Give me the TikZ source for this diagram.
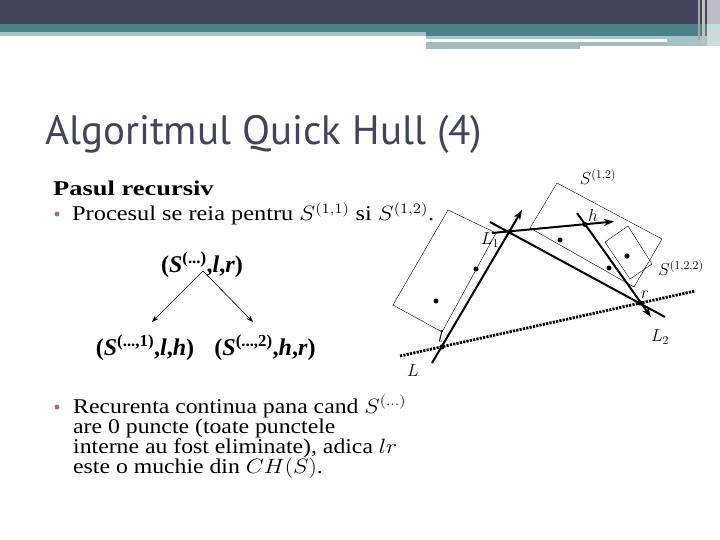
\documentclass[tikz,border=0pt]{standalone}
\usepackage{fontspec}
\usepackage{graphicx}
\usetikzlibrary{arrows.meta}
\newfontfamily\titlefont{PT Sans}
\newfontfamily\treefont{Liberation Serif}
\newfontfamily\bodyfont{Liberation Serif}
\newcommand{\widetxt}[2][1.13]{\scalebox{#1}[1]{#2}}
\definecolor{hdark}{HTML}{41445A}
\definecolor{hteal}{HTML}{4A8286}
\definecolor{hlight}{HTML}{A7C3C6}
\definecolor{hgray}{HTML}{A5BCBE}
\definecolor{hright}{HTML}{BCBBC6}
\definecolor{bulletc}{HTML}{9C6E9E}
\tikzset{
  body/.style={anchor=base west, inner sep=0pt, font=\bodyfont\fontsize{21}{20}\selectfont},
  bul/.style={circle, fill=bulletc, inner sep=0pt, minimum size=5pt},
  treetxt/.style={inner sep=0pt, font=\treefont\bfseries\fontsize{24}{24}\selectfont},
  treearrow/.style={-{Stealth[length=7pt,width=5pt]}, line width=0.6pt},
  thinbox/.style={line width=0.4pt},
  hullline/.style={line width=2pt},
  hullarrow/.style={line width=2pt, -{Stealth[length=10pt,width=7pt]}},
  dotline/.style={line width=2.8pt, dash pattern=on 2.2pt off 1.2pt},
  pt/.style={circle, fill=black, inner sep=0pt, minimum size=5pt},
  lab/.style={inner sep=0pt, font=\fontsize{18}{18}\selectfont},
}
\begin{document}
\begin{tikzpicture}[x=1pt,y=-1pt]
\useasboundingbox (0,0) rectangle (720,540);
% header
\fill[hdark] (0,0) rectangle (720,24);
\fill[hteal] (0,24) rectangle (720,32);
\fill[hlight] (0,32) rectangle (426,36);
\fill[hteal] (426,32) rectangle (707,36);
\fill[hlight] (426,36) rectangle (667,39);
\fill[hgray] (426,42) rectangle (580,49);
\fill[hgray] (580,42) rectangle (707,46);
\fill[hlight] (667,36) rectangle (707,46);
\fill[hright] (707,0) rectangle (720,24);
\fill[hlight!60] (707,24) rectangle (720,46);
\fill[gray!70] (698,0) rectangle (700,40);
\fill[gray!50] (702,0) rectangle (705,44);
% title
\node[anchor=base west, inner sep=0pt, text=hdark] (title) at (45,145)
  {\titlefont\fontsize{41}{44}\selectfont Algoritmul Quick Hull (4)};
% body text
\node[body] (pasul) at (53,196) {\widetxt[1.26]{\bfseries Pasul recursiv}};
\node[bul] (b1) at (57,214) {};
\node[body] (proc) at (72,221) {\widetxt[1.16]{Procesul se reia pentru $S^{(1,1)}$ si $S^{(1,2)}$.}};
% tree
\node[treetxt] (root) at (202,265) {(\textit{S}\textsuperscript{(...)},\textit{l},\textit{r})};
\node[treetxt] (left) at (145,348) {(\textit{S}\textsuperscript{(...,1)},\textit{l},\textit{h})};
\node[treetxt] (right) at (265,348) {(\textit{S}\textsuperscript{(...,2)},\textit{h},\textit{r})};
\coordinate (rs) at (203,271);
\coordinate (le) at (152,322);
\coordinate (re) at (253,322);
\draw[treearrow] (rs) -- (le);
\draw[treearrow] (rs) -- (re);
% bottom bullet
\node[bul] (b2) at (57,407) {};
\node[body] (rec) at (73,413) {\widetxt{Recurenta continua pana cand $S^{(\ldots)}$}};
\node[body] (rec2) at (73,433) {\widetxt{are 0 puncte (toate punctele}};
\node[body] (rec3) at (73,453) {\widetxt{interne au fost eliminate), adica $lr$}};
\node[body] (rec4) at (73,473) {\widetxt{este o muchie din $CH(S)$.}};
% geometry: thin boxes
\coordinate (a1) at (448,210);
\coordinate (a2) at (496,233);
\coordinate (a3) at (442,332);
\coordinate (a4) at (393,305);
\draw[thinbox] (a1) -- (a2) -- (a3) -- (a4) -- cycle;
\coordinate (c1) at (557,183);
\coordinate (c2) at (662,239);
\coordinate (c3) at (634,287);
\coordinate (c4) at (530,228);
\draw[thinbox] (c1) -- (c2) -- (c3) -- (c4) -- cycle;
\coordinate (d1) at (628,226);
\coordinate (d2) at (652,264);
\coordinate (d3) at (630,279);
\coordinate (d4) at (605,242);
\draw[thinbox] (d1) -- (d2) -- (d3) -- (d4) -- cycle;
% inner dots
\node[pt] (p1) at (476,269) {};
\node[pt] (p2) at (436,301) {};
\node[pt] (p3) at (560,240) {};
\node[pt] (p4) at (609,268) {};
\node[pt] (p5) at (627,256) {};
% hull lines
\coordinate (Ls) at (432,363);
\coordinate (Le) at (522,210);
\coordinate (Ds) at (400,356);
\coordinate (De) at (695,291);
\coordinate (Ms) at (490,222);
\coordinate (Me) at (665,317);
\coordinate (Hs) at (492,233);
\coordinate (He) at (614,221.5);
\coordinate (Rs) at (577,213);
\coordinate (Re) at (651,317);
\draw[dotline] (Ds) -- (De);
\draw[hullarrow] (Ls) -- (Le);
\draw[hullline] (Ms) -- (Me);
\draw[hullarrow] (Hs) -- (He);
\draw[hullarrow] (Rs) -- (Re);
% intersection points
\node[pt] (l) at (442,347) {};
\node[pt] (L1p) at (510,231.5) {};
\node[pt] (h) at (585,224.5) {};
\node[pt] (r) at (640,303) {};
% labels
\node[lab] (labL) at (413,371) {$L$};
\node[lab] (labl) at (441,336) {$l$};
\node[lab] (labL1) at (490,240) {$L_1$};
\node[lab] (labh) at (593,216) {$h$};
\node[lab] (labS12) at (598,177) {$S^{(1,2)}$};
\node[lab] (labS122) at (681,268) {$S^{(1,2,2)}$};
\node[lab] (labr) at (645,295) {$r$};
\node[lab] (labL2) at (660,337) {$L_2$};
\end{tikzpicture}
\end{document}
